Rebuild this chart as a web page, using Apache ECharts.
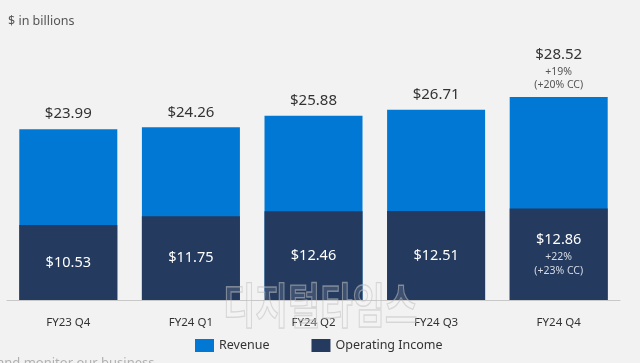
<!DOCTYPE html>
<html>
<head>
<meta charset="utf-8">
<script src="https://cdn.jsdelivr.net/npm/echarts@6/dist/echarts.min.js"></script>
<style>
html,body{margin:0;padding:0;background:#f2f2f2;}
#c{width:640px;height:363px;}
</style>
</head>
<body>
<div id="c"></div>
<script>
const categories = ['FY23 Q4', 'FY24 Q1', 'FY24 Q2', 'FY24 Q3', 'FY24 Q4'];
const revenue = [23.99, 24.26, 25.88, 26.71, 28.52];
const operatingIncome = [10.53, 11.75, 12.46, 12.51, 12.86];
const revenueGrowth = ['', '', '', '', '+19%\n(+20% CC)'];
const incomeGrowth = ['', '', '', '', '+22%\n(+23% CC)'];

const FONT = '"Noto Sans", "Open Sans", sans-serif';
const chart = echarts.init(document.getElementById('c'), null, {renderer: 'canvas'});

function fmtLabel(vals, growth) {
  return function (p) {
    const g = growth[p.dataIndex];
    let s = '{v|$' + vals[p.dataIndex].toFixed(2) + '}';
    if (g) s += '\n' + g.split('\n').map(t => '{g|' + t + '}').join('\n');
    return s;
  };
}

chart.setOption({
  backgroundColor: '#f2f2f2',
  animation: false,
  textStyle: {fontFamily: FONT},
  grid: {left: 7, right: 20, top: 86.4, bottom: 63},
  xAxis: {
    type: 'category',
    data: categories,
    axisLine: {lineStyle: {color: '#c8c8c8', width: 1}},
    axisTick: {show: false},
    axisLabel: {color: '#333', fontSize: 11.5, margin: 17, fontFamily: FONT}
  },
  yAxis: {
    type: 'value', min: 0, max: 30, show: false,
    splitLine: {show: false}
  },
  legend: {
    left: 190, top: 334,
    itemWidth: 19, itemHeight: 13, itemGap: 42,
    icon: 'rect',
    textStyle: {color: '#333', fontSize: 12.5, fontFamily: FONT},
    data: ['Revenue', 'Operating Income']
  },
  series: [
    {
      name: 'Revenue', type: 'bar', data: revenue,
      barWidth: 98, barGap: '-100%',
      itemStyle: {color: '#0078d4'},
      label: {
        show: true, position: 'top', distance: 5,
        formatter: fmtLabel(revenue, revenueGrowth),
        rich: {
          v: {fontSize: 15, color: '#333', lineHeight: 20, fontFamily: FONT},
          g: {fontSize: 10.5, color: '#555', lineHeight: 13.5, fontFamily: FONT}
        }
      },
      z: 2
    },
    {
      name: 'Operating Income', type: 'bar', data: operatingIncome,
      barWidth: 98, barGap: '-100%',
      itemStyle: {color: '#243a5e'},
      label: {
        show: true, position: 'inside',
        formatter: fmtLabel(operatingIncome, incomeGrowth),
        rich: {
          v: {fontSize: 14.5, color: '#fff', lineHeight: 19, fontFamily: FONT},
          g: {fontSize: 10.5, color: '#d5dbe5', lineHeight: 14, fontFamily: FONT}
        }
      },
      z: 3
    }
  ],
  graphic: [
    {type: 'text', left: 8, top: 15, style: {text: '$ in billions', fill: '#555', fontSize: 12.5, fontFamily: FONT}},
    {type: 'text', left: -3, top: 357, style: {text: 'and monitor our business', fill: '#b0b0b0', fontSize: 13, fontFamily: FONT}},
    {type: 'text', x: 223, y: 281, scaleX: 0.88, scaleY: 1.2, z: 10, style: {text: '디지털타임스', x: 0, y: 0, textVerticalAlign: 'top', fill: 'rgba(255,255,255,0.12)', stroke: 'rgba(190,190,190,0.55)', lineWidth: 1.2, fontSize: 40, fontWeight: 'bold', fontFamily: '"Noto Sans CJK KR", sans-serif'}}
  ]
});
</script>
</body>
</html>
